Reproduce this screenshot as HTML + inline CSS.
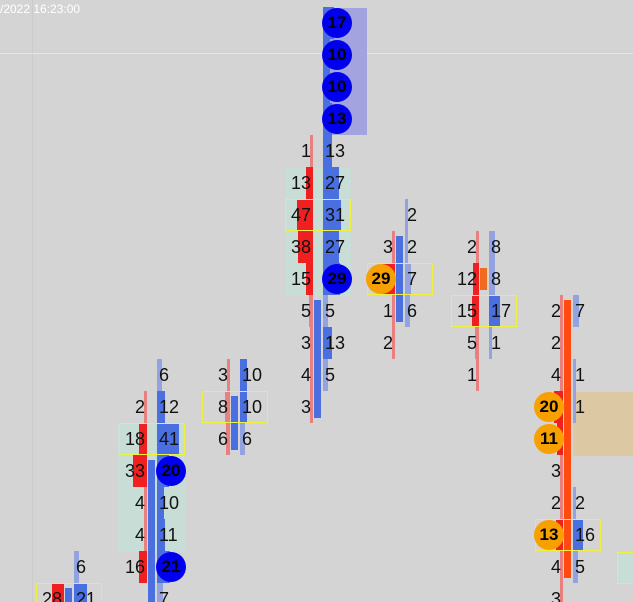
<!DOCTYPE html>
<html><head><meta charset="utf-8">
<style>
body{margin:0;width:633px;height:602px;overflow:hidden;background:#d4d4d4;font-family:"Liberation Sans",Arial,sans-serif;}
#c{position:relative;width:633px;height:602px;overflow:hidden;}
.a{position:absolute;}
.t{position:absolute;font-size:18px;color:#111;line-height:20px;white-space:nowrap;}
.circ{position:absolute;width:30px;height:30px;border-radius:50%;font-weight:bold;font-size:17px;line-height:30px;text-align:center;color:#000;}
</style></head><body>
<div id="c">
<div class="a" style="left:32px;top:0;width:1px;height:602px;background:#cbcbcb"></div>
<div class="a" style="left:0;top:53px;width:633px;height:1px;background:#e6e6e6"></div>
<div class="a" style="left:0;top:2px;font-size:12px;color:#fff">/2022 16:23:00</div>
<div class="a" style="left:323px;top:8px;width:44px;height:127px;background:#a3a3e0"></div>
<div class="a" style="left:285px;top:168px;width:66px;height:128px;background:#c8ddd6"></div>
<div class="a" style="left:117px;top:424px;width:68px;height:128px;background:#c8ddd6"></div>
<div class="a" style="left:573px;top:392px;width:60px;height:64px;background:#dcc8a2"></div>
<div class="a" style="left:617px;top:552px;width:16px;height:30px;background:#c8ddd6;border:1px solid #f0f040"></div>
</div>
<script>
const colNames=["A","B","C","D","E","F","G"];
const colDivider=[74,157,240,323,405,489,573];
// cells: column index, row index, bid, ask (null = blank)
const cellCol=[0,0, 1,1,1,1,1,1,1,1, 2,2,2, 3,3,3,3,3,3,3,3,3,3,3,3,3, 4,4,4,4,4, 5,5,5,5,5, 6,6,6,6,6,6,6,6,6,6];
const cellRow=[17,18, 11,12,13,14,15,16,17,18, 11,12,13, 0,1,2,3,4,5,6,7,8,9,10,11,12, 6,7,8,9,10, 7,8,9,10,11, 9,10,11,12,13,14,15,16,17,18];
const cellBid=[null,28, null,2,18,33,4,4,16,null, 3,8,6, null,null,null,null,1,13,47,38,15,5,3,4,3, null,3,29,1,2, 2,12,15,5,1, 2,2,4,20,11,3,2,13,4,3];
const cellAsk=[6,21, 6,12,41,20,10,11,21,7, 10,10,6, 17,10,10,13,13,27,31,27,29,5,13,5,null, 2,2,7,6,null, 8,8,17,1,null, 7,null,1,1,null,null,2,16,5,null];
// markers: 0 none, 1 blue ask circle, 2 orange bid circle
const cellMark=[0,0, 0,0,0,1,0,0,1,0, 0,0,0, 1,1,1,1,0,0,0,0,1,0,0,0,0, 0,0,2,0,0, 0,0,0,0,0, 0,0,0,2,2,0,0,2,0,0];
// POC boxes: column, row
const pocCol=[0,1,2,3,4,5,6];
const pocRow=[18,13,12,6,8,9,16];
// candle bodies: column, top row, bottom row, color
const barCol=[0,1,2,3,4,5,6];
const barTop=[18,14,12,9,7,8,9];
const barBot=[18,18,13,12,9,8,17];
const barColor=["#4a6fe0","#4a6fe0","#4a6fe0","#4a6fe0","#4a6fe0","#f06a20","#ff4a10"];

const c=document.getElementById('c');
const Y=r=>23+32*r;
function mk(cls,css,name){const d=document.createElement('div');d.className=cls;d.style.cssText=css;


c.appendChild(d);return d;}
for(let i=0;i<cellCol.length;i++){
  const x=colDivider[cellCol[i]],y=Y(cellRow[i]);
  const b=cellBid[i],a=cellAsk[i];
  if(b!==null){const w=Math.max(3,Math.min(16,b*0.35+2));
    mk('a',`left:${x-10-w}px;top:${y-16}px;width:${w}px;height:32px;background:${b>=10?'#f02020':'#e88080'}`,'bid-bar');}
  if(a!==null){const w=Math.max(3,Math.min(22,a*0.5+2));
    mk('a',`left:${x}px;top:${y-16}px;width:${w}px;height:32px;background:${a>=10?'#4a6fe0':'#93a3e0'}`,'ask-bar');}
}
for(let i=0;i<barCol.length;i++){
  const x=colDivider[barCol[i]];
  mk('a',`left:${x-9}px;top:${Y(barTop[i])-11}px;width:7px;height:${(barBot[i]-barTop[i])*32+22}px;background:${barColor[i]}`,'candle-body');
}
for(let i=0;i<pocCol.length;i++){
  const x=colDivider[pocCol[i]];
  mk('a',`left:${x-38}px;top:${Y(pocRow[i])-16}px;width:66px;height:32px;border:1px solid #f0f040;box-sizing:border-box`,'poc-box');
}
for(let i=0;i<cellCol.length;i++){
  const x=colDivider[cellCol[i]],y=Y(cellRow[i]);
  const b=cellBid[i],a=cellAsk[i],m=cellMark[i];
  if(b!==null){
    if(m===2){const d=mk('circ',`left:${x-39}px;top:${y-15}px;background:#f7a000`,'bid-imbalance-circle');d.textContent=b;}
    else{const d=mk('t',`right:${633-(x-12)}px;top:${y-10}px`,'bid-value');d.textContent=b;}
  }
  if(a!==null){
    if(m===1){const d=mk('circ',`left:${x-1}px;top:${y-15}px;background:#0000ee`,'ask-imbalance-circle');d.textContent=a;}
    else{const d=mk('t',`left:${x+2}px;top:${y-10}px`,'ask-value');d.textContent=a;}
  }
}
</script>
</body></html>
